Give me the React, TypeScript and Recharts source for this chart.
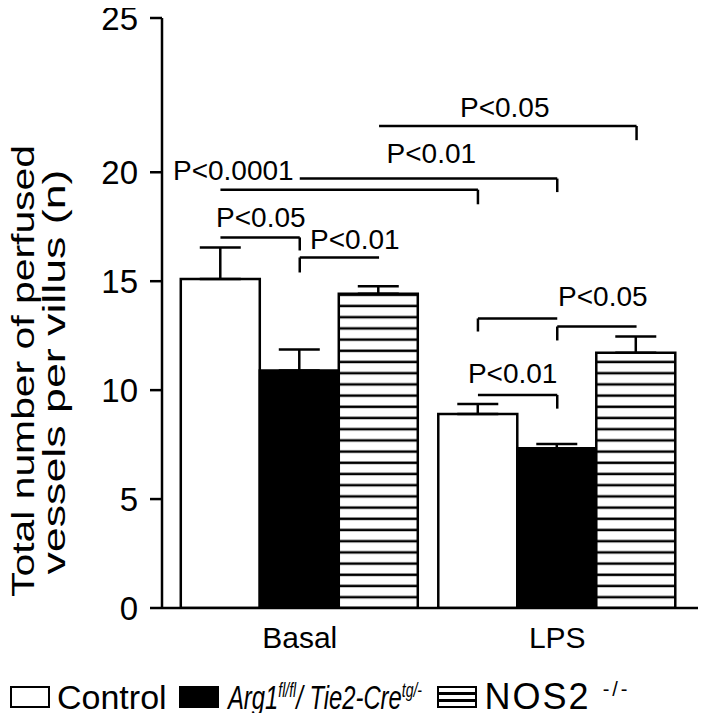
import React from "react";
import {
  BarChart,
  Bar,
  XAxis,
  YAxis,
  ErrorBar,
  ReferenceLine,
  ReferenceDot,
} from "recharts";

// values (mean and upper SEM)
const groups = ["Basal", "LPS"];
const controlMean = [15.1, 8.9];
const controlSem = [1.45, 0.46];
const arg1Mean = [10.9, 7.33];
const arg1Sem = [0.96, 0.2];
const nos2Mean = [14.42, 11.72];
const nos2Sem = [0.35, 0.74];
const yTicks = [0, 5, 10, 15, 20, 25];

// significance brackets: [group, bar] ends, line level, end tick
const brackets = [
  { from: [0, 0], to: [0, 1], y: 17.01, side: "right", tickTo: 16.41 },
  { from: [0, 1], to: [0, 2], y: 16.09, side: "left", tickTo: 15.4 },
  { from: [0, 0], to: [1, 0], y: 19.2, side: "right", tickTo: 18.53 },
  { from: [0, 1], to: [1, 1], y: 19.71, side: "right", tickTo: 19.09 },
  { from: [0, 2], to: [1, 2], y: 21.5, side: "right", tickTo: 21.04 },
  { from: [1, 0], to: [1, 1], y: 9.78, side: "right", tickTo: 9.15 },
  { from: [1, 0], to: [1, 1], y: 13.29, side: "left", tickTo: 12.69 },
  { from: [1, 1], to: [1, 2], y: 12.92, side: "left", tickTo: 12.28 },
];
const pLabels = [
  { text: "P<0.05", x: 0.349, y: 17.94 },
  { text: "P<0.01", x: 0.714, y: 16.92 },
  { text: "P<0.0001", x: 0.242, y: 20.06 },
  { text: "P<0.01", x: 1.011, y: 20.61 },
  { text: "P<0.05", x: 1.296, y: 22.12 },
  { text: "P<0.01", x: 1.327, y: 10.8 },
  { text: "P<0.05", x: 1.677, y: 14.3 },
];

const data = groups.map((g, i) => ({
  group: g,
  edge: i * 2, // spans the hidden position axis 0..2
  control: controlMean[i],
  controlErr: [0, controlSem[i]],
  arg1: arg1Mean[i],
  arg1Err: [0, arg1Sem[i]],
  nos2: nos2Mean[i],
  nos2Err: [0, nos2Sem[i]],
}));

const GAP = 0.038; // barCategoryGap share of a band
const xPad = { left: 9, right: 12 };
const barSlot = (g: number, b: number) =>
  g + GAP + ((1 - 2 * GAP) / 3) * (b + 0.5);

// the original axis is stretched above 20
const Y_BREAK = 20;
const BREAK_SHARE = 435 / 589;
function brokenScale(): any {
  let dom = [0, 25];
  let rng = [0, 1];
  const s: any = (v: number) => {
    const t =
      v <= Y_BREAK
        ? ((v - dom[0]) / (Y_BREAK - dom[0])) * BREAK_SHARE
        : BREAK_SHARE +
          ((v - Y_BREAK) / (dom[1] - Y_BREAK)) * (1 - BREAK_SHARE);
    return rng[0] + (rng[1] - rng[0]) * t;
  };
  s.domain = (d?: any[]) => {
    if (d === undefined) return dom.slice();
    dom = [Number(d[0]), Number(d[d.length - 1])];
    return s;
  };
  s.range = (r?: any[]) => {
    if (r === undefined) return rng.slice();
    rng = [Number(r[0]), Number(r[r.length - 1])];
    return s;
  };
  s.copy = () => brokenScale().domain(dom).range(rng);
  s.ticks = () => yTicks;
  s.tickFormat = () => (v: number) => String(v);
  return s;
}

const font = "'Liberation Sans', Arial, sans-serif";

const YLabel = () => (
  <g fontFamily={font} fontSize={32} fill="#000">
    <text
      transform="translate(23, 371) rotate(-90)"
      textAnchor="middle"
      dominantBaseline="central"
      textLength={452}
      lengthAdjust="spacingAndGlyphs"
    >
      Total number of perfused
    </text>
    <text
      transform="translate(54, 372) rotate(-90)"
      textAnchor="middle"
      dominantBaseline="central"
      textLength={405}
      lengthAdjust="spacingAndGlyphs"
    >
      vessels per villus (n)
    </text>
  </g>
);

const boxStyle: React.CSSProperties = {
  width: 36,
  height: 18,
  border: "2.5px solid #000",
  display: "inline-block",
  flex: "none",
};

export default function App() {
  return (
    <div
      style={{
        position: "relative",
        width: 719,
        height: 721,
        margin: -8,
        background: "#fff",
        fontFamily: font,
      }}
    >
      <BarChart
        width={719}
        height={665}
        data={data}
        margin={{ top: 18, right: 21, left: 0, bottom: 10 }}
        barCategoryGap={`${GAP * 100}%`}
        barGap={0}
      >
        <defs>
          <pattern
            id="hatch"
            patternUnits="userSpaceOnUse"
            width={10}
            height={11.2}
          >
            <rect width={10} height={11.2} fill="#fff" />
            <line x1={0} x2={10} y1={3.6} y2={3.6} stroke="#000" strokeWidth={2.5} />
          </pattern>
        </defs>
        <XAxis
          dataKey="group"
          padding={xPad}
          tickLine={false}
          tickSize={8}
          tickMargin={11}
          axisLine={{ stroke: "#000", strokeWidth: 2.5 }}
          tick={{ fill: "#000", fontSize: 30, fontFamily: font }}
          height={47}
        />
        <XAxis
          xAxisId="slot"
          dataKey="edge"
          type="number"
          domain={[0, 2]}
          padding={xPad}
          allowDataOverflow
          hide
        />
        <YAxis
          type="number"
          domain={[0, 25]}
          scale={brokenScale()}
          ticks={yTicks}
          interval={0}
          allowDataOverflow
          width={162}
          tickSize={12}
          tickMargin={12}
          axisLine={{ stroke: "#000", strokeWidth: 2.5 }}
          tickLine={{ stroke: "#000", strokeWidth: 2.5 }}
          tick={{ fill: "#000", fontSize: 33, fontFamily: font }}
          label={<YLabel />}
        />
        <Bar
          dataKey="control"
          fill="#fff"
          stroke="#000"
          strokeWidth={2.5}
          isAnimationActive={false}
        >
          <ErrorBar dataKey="controlErr" width={20.5} stroke="#000" strokeWidth={2.5} direction="y" />
        </Bar>
        <Bar
          dataKey="arg1"
          fill="#000"
          stroke="#000"
          strokeWidth={2.5}
          isAnimationActive={false}
        >
          <ErrorBar dataKey="arg1Err" width={20.5} stroke="#000" strokeWidth={2.5} direction="y" />
        </Bar>
        <Bar
          dataKey="nos2"
          fill="url(#hatch)"
          stroke="#000"
          strokeWidth={2.5}
          isAnimationActive={false}
        >
          <ErrorBar dataKey="nos2Err" width={20.5} stroke="#000" strokeWidth={2.5} direction="y" />
        </Bar>
        {brackets.map((b, i) => {
          const x1 = barSlot(b.from[0], b.from[1]);
          const x2 = barSlot(b.to[0], b.to[1]);
          const xt = b.side === "left" ? x1 : x2;
          return (
            <React.Fragment key={i}>
              <ReferenceLine
                xAxisId="slot"
                segment={[{ x: x1, y: b.y }, { x: x2, y: b.y }]}
                stroke="#000"
                strokeWidth={2.5}
              />
              <ReferenceLine
                xAxisId="slot"
                segment={[{ x: xt, y: b.y }, { x: xt, y: b.tickTo }]}
                stroke="#000"
                strokeWidth={2.5}
              />
            </React.Fragment>
          );
        })}
        {pLabels.map((p, i) => (
          <ReferenceDot
            key={i}
            xAxisId="slot"
            x={p.x}
            y={p.y}
            r={0}
            fill="none"
            stroke="none"
            label={{
              value: p.text,
              position: "center",
              fill: "#000",
              fontSize: 28,
              fontFamily: font,
            }}
          />
        ))}
      </BarChart>
      <div
        style={{
          position: "absolute",
          left: 10,
          top: 676,
          display: "flex",
          alignItems: "center",
          fontSize: 34,
          color: "#000",
          whiteSpace: "nowrap",
        }}
      >
        <span style={{ ...boxStyle, background: "#fff" }} />
        <span style={{ marginLeft: 7, marginRight: 12 }}>Control</span>
        <span style={{ ...boxStyle, background: "#000" }} />
        <span style={{ marginLeft: 9, width: 209, display: "inline-block", flex: "none", overflow: "visible" }}>
          <span
            style={{
              display: "inline-block",
              fontStyle: "italic",
              transform: "scaleX(0.7)",
              transformOrigin: "left center",
            }}
          >
            Arg1<sup style={{ fontSize: 20 }}>fl/fl</sup>/ Tie2-Cre
            <sup style={{ fontSize: 20 }}>tg/-</sup>
          </span>
        </span>
        <span
          style={{
            ...boxStyle,
            background:
              "repeating-linear-gradient(to bottom, #fff 0px, #fff 4.5px, #000 4.5px, #000 7px)",
          }}
        />
        <span style={{ marginLeft: 8, fontSize: 36, letterSpacing: 2 }}>
          NOS2
          <sup style={{ fontSize: 20, marginLeft: 12, letterSpacing: 3 }}>-/-</sup>
        </span>
      </div>
    </div>
  );
}
